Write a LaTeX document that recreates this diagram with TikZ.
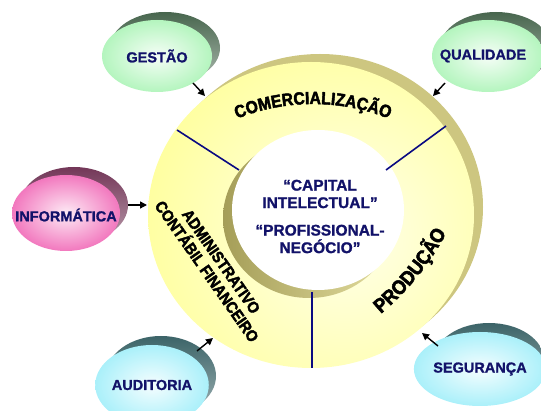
\documentclass[tikz,border=0pt]{standalone}
\usepackage{fontspec}
\setmainfont{Liberation Sans}
\newfontfamily\ringfont[FakeBold=2.5,FakeStretch=0.9]{Liberation Sans Bold}
\newfontfamily\labelfont[FakeBold=1.2]{Liberation Sans Bold}
\usetikzlibrary{shapes.geometric,arrows.meta,decorations.text}
\definecolor{navytext}{RGB}{18,18,105}
\definecolor{divline}{RGB}{10,10,130}
\definecolor{ringyellow}{RGB}{255,255,150}
\definecolor{ringpale}{RGB}{255,255,235}
\definecolor{ringback}{RGB}{205,198,128}
\definecolor{wallolive}{RGB}{165,158,88}
\definecolor{walllight}{RGB}{228,222,160}
\definecolor{greenfront}{RGB}{180,245,190}
\definecolor{greenback}{RGB}{72,102,78}
\definecolor{pinkfront}{RGB}{242,120,190}
\definecolor{pinkback}{RGB}{115,55,88}
\definecolor{cyanfront}{RGB}{170,240,250}
\definecolor{cyanback}{RGB}{60,100,104}
\begin{document}
\begin{tikzpicture}[x=1pt,y=1pt,
  satlabel/.style={ellipse, inner sep=0pt, text=navytext,
    font=\labelfont\fontsize{14.5}{14.5}\selectfont},
  sattext/.style={text=navytext, font=\labelfont\fontsize{14.5}{14.5}\selectfont},
  arr/.style={-{Triangle[length=7pt,width=7pt]}, line width=1.4pt, black},
  divider/.style={draw=divline, line width=1.6pt},
  centertext/.style={align=center, text=navytext,
    font=\labelfont\fontsize{15.5}{17.5}\selectfont},
  ringlabel/.style={font=\ringfont\fontsize{16}{16}\selectfont, align=center}
]
\useasboundingbox (0,0) rectangle (541,-411);

% ring
\fill[ringback] (320,-207) ellipse[x radius=163, y radius=153];
\begin{scope}
  \clip (311,-215) ellipse[x radius=163, y radius=153];
  \shade[inner color=ringpale, outer color=ringyellow] (345,-235) circle (230);
\end{scope}
\shade[left color=wallolive, right color=walllight] (309,-218) ellipse[x radius=86, y radius=80];
\fill[white] (318,-210) ellipse[x radius=86, y radius=80];

% dividers
\coordinate (d1a) at (177,-130);
\coordinate (d1b) at (239,-170);
\coordinate (d2a) at (446,-126);
\coordinate (d2b) at (386,-170);
\coordinate (d3a) at (312,-292);
\coordinate (d3b) at (312,-368);
\draw[divider] (d1a) -- (d1b);
\draw[divider] (d2a) -- (d2b);
\draw[divider] (d3a) -- (d3b);

% ring labels
\path[decorate, decoration={text along path, text align=center,
  text={|\ringfont\fontsize{17.5}{17.5}\selectfont|COMERCIALIZAÇÃO}}]
  (313,-307) ++(140:203) arc[start angle=140, end angle=40, radius=203];
\path[decorate, decoration={text along path, text align=center,
  text={|\ringfont\fontsize{20}{20}\selectfont|PRODUÇÃO}}]
  (207,-106) ++(-70:271) arc[start angle=-70, end angle=-8, radius=271];
\node[ringlabel, rotate=-55] (adm) at (214,-266.5) {ADMINISTRATIVO\\[1.5pt]CONTÁBIL FINANCEIRO};

% centre text
\node[centertext] (cap) at (320,-194) {“CAPITAL\\INTELECTUAL”};
\node[centertext] (pro) at (320,-239) {“PROFISSIONAL-\\NEGÓCIO”};

% satellites: back (extruded) parts
\shade[top color=greenback, bottom color=greenback!45!white] (165,-48) ellipse[x radius=55, y radius=36];
\shade[top color=greenback, bottom color=greenback!45!white] (496,-48) ellipse[x radius=56, y radius=36];
\shade[top color=pinkback, bottom color=pinkback!50!white] (74,-205) ellipse[x radius=54, y radius=38];
\shade[top color=cyanback, bottom color=cyanback!50!white] (161,-376) ellipse[x radius=55, y radius=40];
\shade[top color=cyanback, bottom color=cyanback!50!white] (489,-360) ellipse[x radius=55, y radius=37];

% satellites: front parts
\node[satlabel, minimum width=110pt, minimum height=72pt, inner color=greenfront!12!white, outer color=greenfront] (gestao) at (157,-56) {GESTÃO};
\node[satlabel, minimum width=112pt, minimum height=72pt, inner color=greenfront!12!white, outer color=greenfront] (qual) at (488,-56) {};
\node[sattext] (qualt) at (483,-56) {QUALIDADE};
\node[satlabel, minimum width=108pt, minimum height=76pt, inner color=pinkfront!15!white, outer color=pinkfront] (info) at (66,-213) {};
\node[sattext] (infot) at (66,-215) {INFORMÁTICA};
\node[satlabel, minimum width=110pt, minimum height=80pt, inner color=cyanfront!12!white, outer color=cyanfront] (aud) at (152,-385) {AUDITORIA};
\node[satlabel, minimum width=110pt, minimum height=74pt, inner color=cyanfront!12!white, outer color=cyanfront] (seg) at (480,-369) {SEGURANÇA};

% arrows
\coordinate (ga) at (193,-83);  \coordinate (gb) at (205,-96);
\coordinate (qa) at (445,-83);  \coordinate (qb) at (433,-96);
\coordinate (ia) at (128,-205); \coordinate (ib) at (147,-205);
\coordinate (aa) at (197,-351); \coordinate (ab) at (213,-338);
\coordinate (sa) at (438,-346); \coordinate (sb) at (422,-333);
\draw[arr] (ga) -- (gb);
\draw[arr] (qa) -- (qb);
\draw[arr] (ia) -- (ib);
\draw[arr] (aa) -- (ab);
\draw[arr] (sa) -- (sb);
\end{tikzpicture}
\end{document}
